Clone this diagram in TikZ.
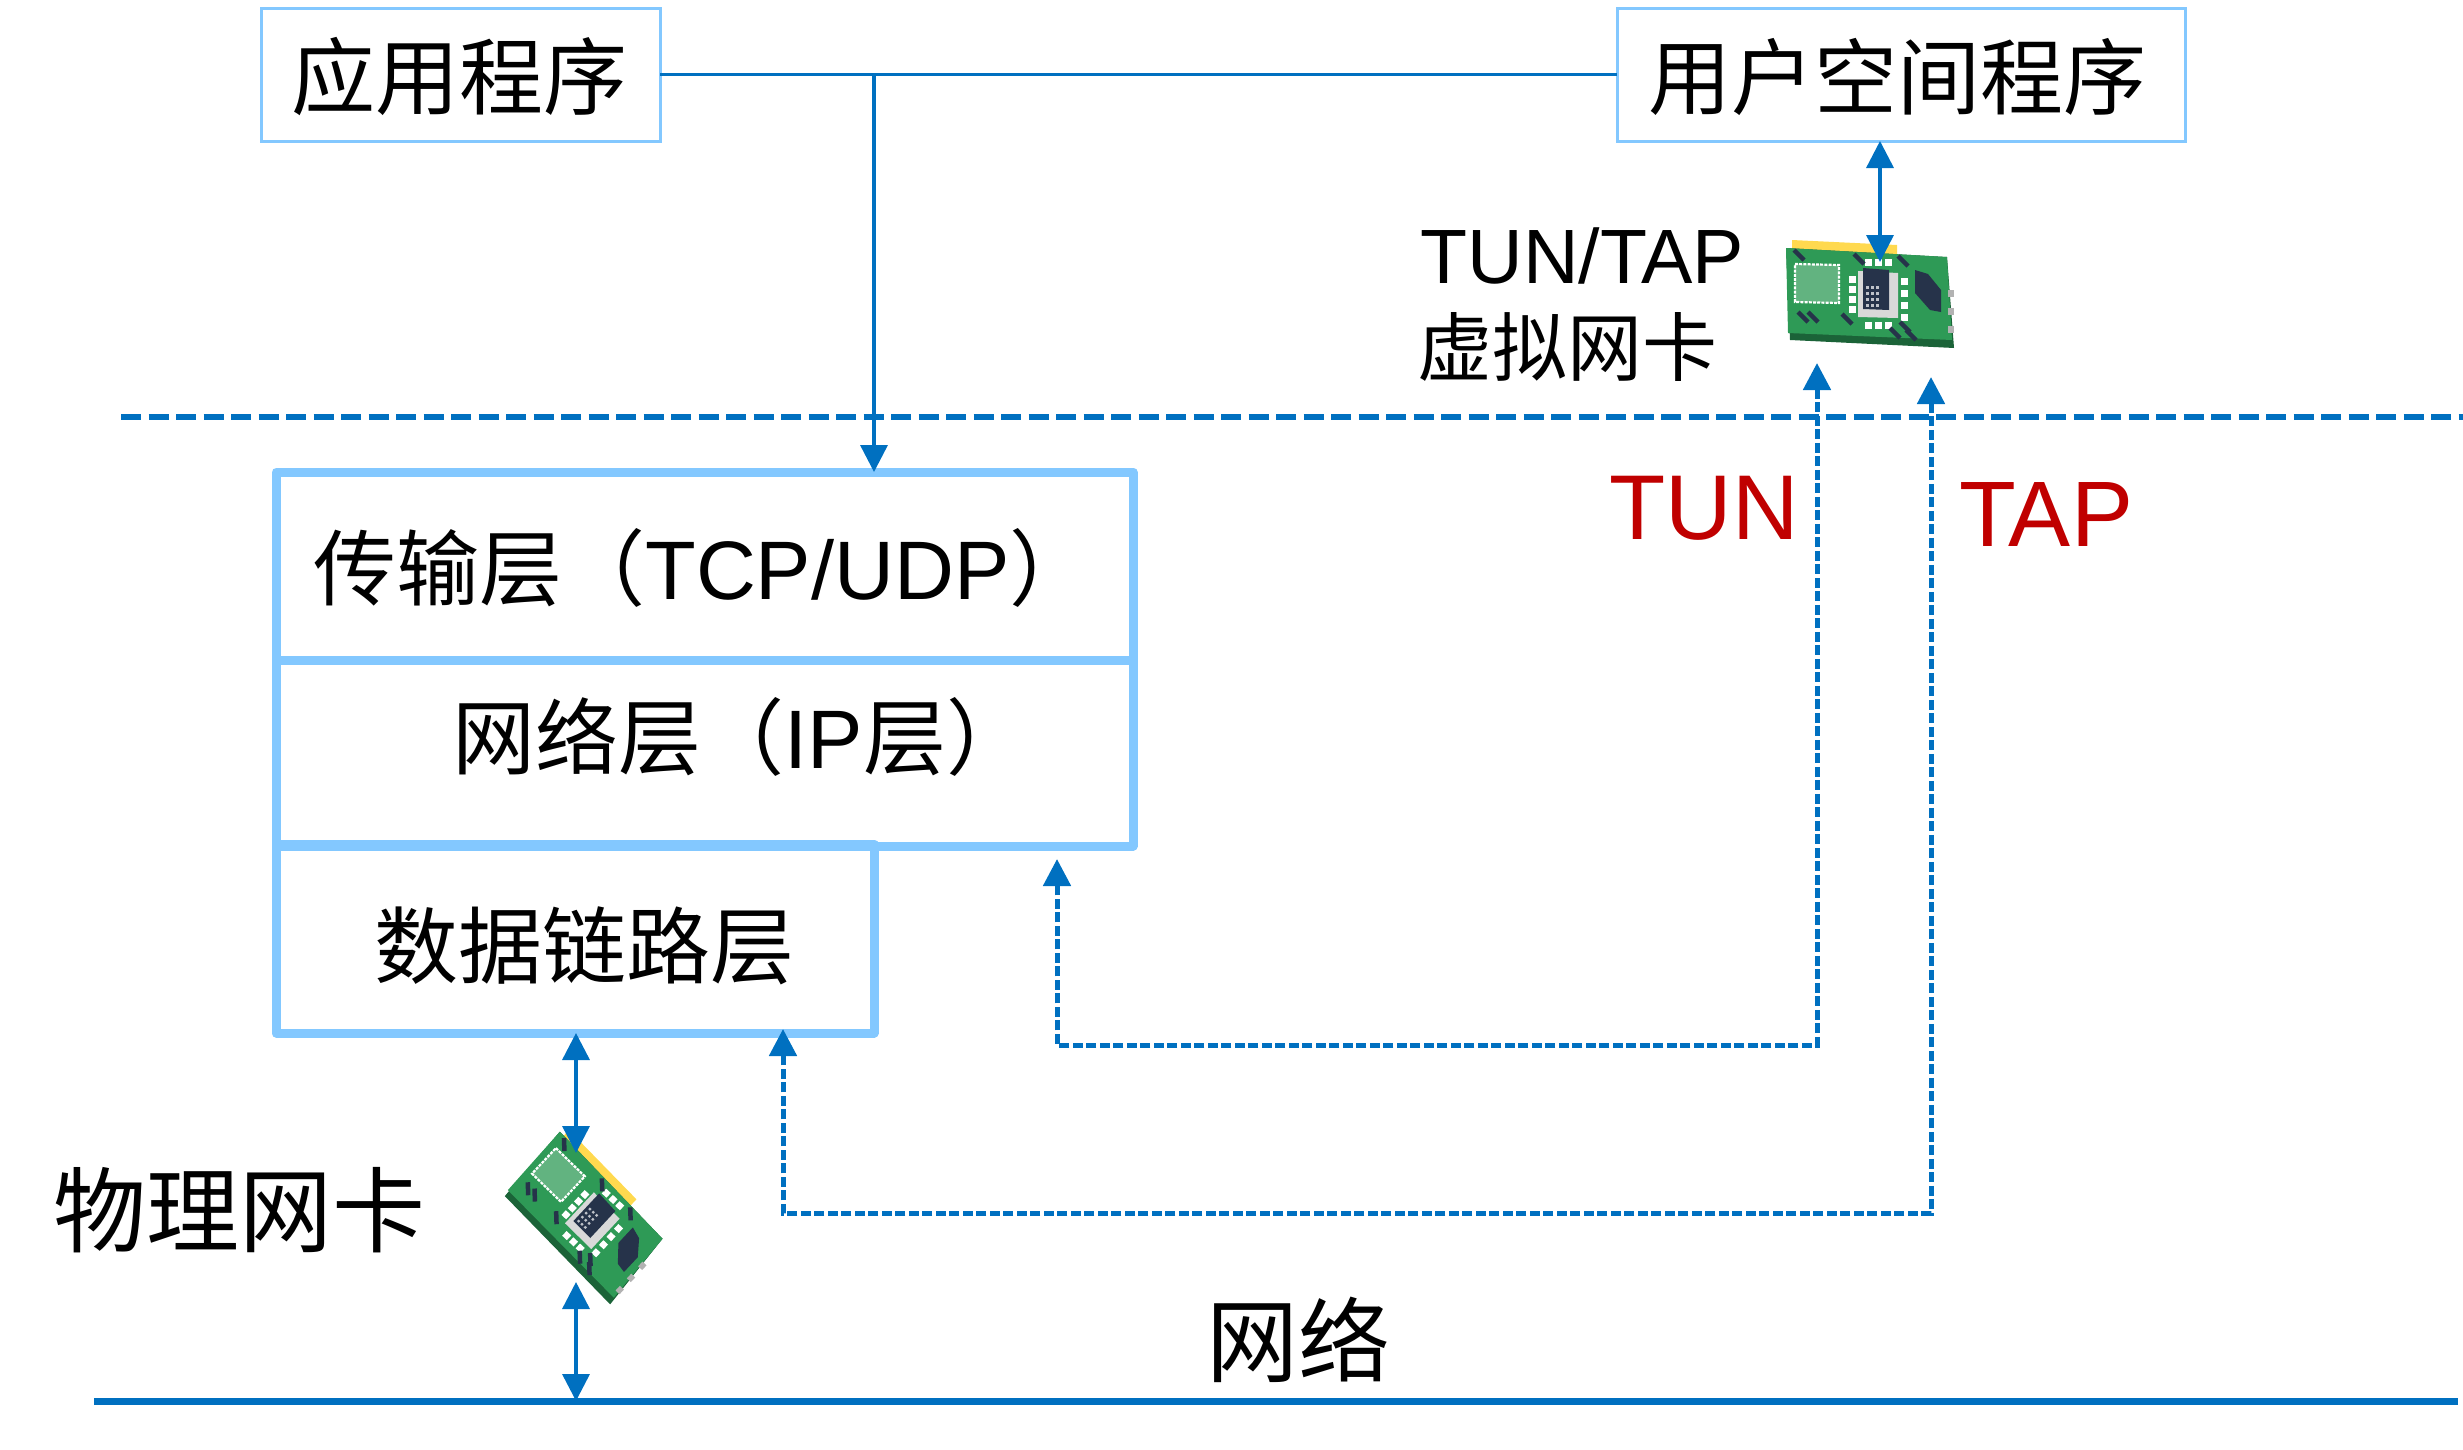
\documentclass[tikz,border=0pt]{standalone}
\usepackage{fontspec}
\setmainfont{Liberation Sans}
\newfontfamily\cjk{Noto Sans CJK SC}
\usetikzlibrary{arrows.meta,positioning}
\definecolor{wireblue}{HTML}{0070C0}
\definecolor{boxblue}{HTML}{83C8FF}
\definecolor{tunred}{HTML}{C00000}
\definecolor{cardgreen}{HTML}{2E9A56}
\definecolor{carddark}{HTML}{1B6338}
\definecolor{cardnavy}{HTML}{26334A}
\definecolor{cardgold}{HTML}{FFD94F}
\def\fs#1{\fontsize{#1}{#1}\selectfont}
\tikzset{
	thinbox/.style={draw=boxblue,line width=3pt,outer sep=0pt,inner sep=0pt},
	layerbox/.style={draw=boxblue,line width=9pt,outer sep=0pt,inner sep=0pt,line join=round},
	wire/.style={draw=wireblue,line width=3.5pt},
	biarrow/.style={wire,{Triangle[width=27pt,length=27pt]}-{Triangle[width=27pt,length=27pt]}},
	onearrow/.style={wire,-{Triangle[width=27pt,length=27pt]}},
	dasharrow/.style={wire,line width=5pt,dash pattern=on 10pt off 3.5pt,{Triangle[width=27pt,length=27pt]}-{Triangle[width=27pt,length=27pt]}},
	netcard/.pic={
		\fill[cardgold] (-78,-58)--(27,-53)--(27,-36)--(-78,-44)--cycle;
		\fill[carddark] (-84,-50)--(77,-41)--(84,50)--(-80,42)--cycle;
		\fill[cardgreen] (-84,-50)--(77,-41)--(82,42)--(-82,35)--cycle;
		\fill[cardgreen!75!white] (-75,-34)--(-31,-33)--(-31,5)--(-75,4)--cycle;
		\draw[white,line width=2.2pt,dash pattern=on 3pt off 1.2pt] (-75,-34)--(-31,-33)--(-31,5)--(-75,4)--cycle;
		\fill[gray!30] (-12,-27)--(28,-25)--(28,20)--(-12,19)--cycle;
		\fill[cardnavy] (-7,-30)--(19,-28)--(19,12)--(-7,11)--cycle;
		% grid on the chip
		\foreach \i in {-4,1,6}
			\foreach \j in {-12,-6,0,6}
				\fill[white!70!cardnavy] (\i,\j) rectangle ++(2.5,2.5);
		\foreach \i in {-22,-12,-2,8}
			\fill[white] (-21,\i) rectangle ++(7,7);
		\foreach \i in {-20,-8,4,16}
			\fill[white] (31,\i) rectangle ++(7,7);
		\foreach \i in {-5,5,15}
			\fill[white] (\i,-39) rectangle ++(7,7);
		\foreach \i in {-5,5,15}
			\fill[white] (\i,24) rectangle ++(7,7);
		\fill[cardnavy] (45,-28)--(58,-24)--(71,-8)--(71,14)--(60,12)--(45,-5)--cycle;
		\foreach \i/\j in {-76/-48,-16/-44,28/-42,-72/14,-62/14,-28/16,20/30,30/24,36/32}
			\draw[cardnavy,line width=4.5pt] (\i,\j)--++(10,10);
		\fill[gray!60] (78,-8) rectangle ++(6,7);
		\fill[gray!60] (78,10) rectangle ++(6,7);
		\fill[gray!60] (78,28) rectangle ++(6,7);
	}
}

\begin{document}
\begin{tikzpicture}[x=1pt,y=-1pt]
	\useasboundingbox (0,0) rectangle (2463,1449);
	\node[thinbox,minimum width=399pt,minimum height=133pt] (app) at (460.5,74.5) {};
	\node[thinbox,minimum width=568pt,minimum height=133pt] (usr) at (1901,74.5) {};
	\node[font=\cjk\fs{84}] (applabel) at (459,77) {应用程序};
	\node[font=\cjk\fs{83}] (usrlabel) at (1897,77) {用户空间程序};

	\node[layerbox,minimum width=857pt,minimum height=188pt] (trans) at (704.5,566) {};
	\node[layerbox,minimum width=857pt,minimum height=186pt] (net) at (704.5,753) {};
	\node[layerbox,minimum width=598pt,minimum height=189pt] (link) at (575,938.5) {};
	\node[font=\fs{83}] (translabel) at (703,568) {{\cjk 传输层（}TCP/UDP{\cjk ）}};
	\node[font=\fs{83}] (netlabel) at (741,737) {{\cjk 网络层（}IP{\cjk 层）}};
	\node[font=\cjk\fs{84}] (linklabel) at (584,946) {数据链路层};

	\node[font=\fs{77},anchor=base west] (vname) at (1417,283) {TUN/TAP};
	\node[font=\cjk\fs{75},anchor=west] (vlabel) at (1414,347) {虚拟网卡};
	\node[font=\fs{92},text=tunred] (tunlabel) at (1704,508) {TUN};
	\node[font=\fs{93},text=tunred] (taplabel) at (2046,514) {TAP};
	\node[font=\cjk\fs{93}] (phylabel) at (239,1210) {物理网卡};
	\node[font=\cjk\fs{92}] (lanlabel) at (1298,1340) {网络};

	% cards
	\pic at (1870,298) {netcard};
	\pic[rotate=-43,scale=0.92] at (585,1218) {netcard};

	\coordinate (junc) at (874,74.5);
	\coordinate (vtop) at (1880,262);
	\coordinate (ptop) at (576,1153);
	\coordinate (pbot) at (576,1282);
	\coordinate (tuntop) at (1817,363);
	\coordinate (taptop) at (1931,377);
	\coordinate (netin) at (1057,859);
	\coordinate (linkin) at (783,1029);
	\coordinate (kernl) at (121,417);
	\coordinate (kernr) at (2463,417);
	\coordinate (lanl) at (94,1401);
	\coordinate (lanr) at (2458,1401);

	\draw[wire] (app.east)--(usr.west);
	\draw[onearrow] (junc)--(junc |- trans.north);
	\draw[biarrow] (vtop |- usr.south)--(vtop);
	\draw[biarrow] (ptop |- link.south)--(ptop);
	\draw[biarrow] (pbot)--(pbot |- lanl);
	\draw[dasharrow] (tuntop)--++(0,682)-|(netin);
	\draw[dasharrow] (taptop)--++(0,836)-|(linkin);

	\draw[wire,line width=6pt,dash pattern=on 20pt off 7.5pt] (kernl)--(kernr);
	\draw[wire,line width=7pt] (lanl)--(lanr);
\end{tikzpicture}
\end{document}
